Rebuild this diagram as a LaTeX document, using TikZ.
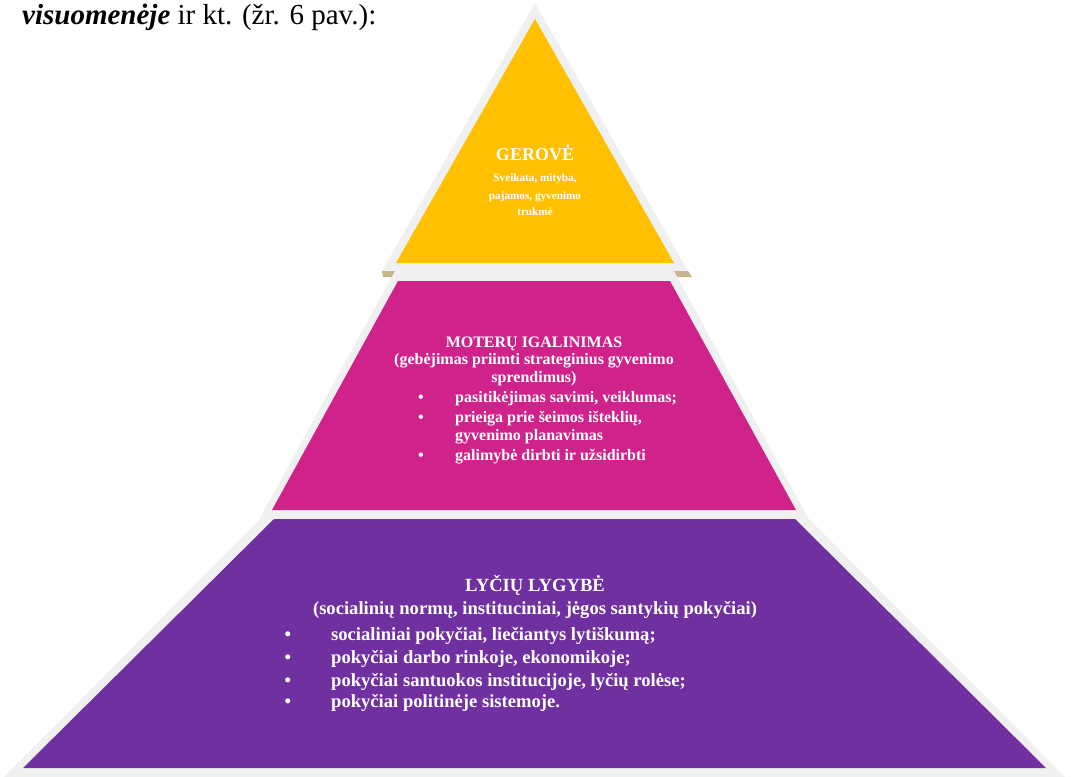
\documentclass[tikz,border=0pt]{standalone}
\usepackage{fontspec}
\setmainfont{Liberation Serif}
\usepackage{tikz}
\definecolor{goldlvl}{HTML}{FFC000}
\definecolor{pinklvl}{HTML}{CF238B}
\definecolor{purplelvl}{HTML}{7030A0}
\definecolor{framegrey}{HTML}{F0F0F0}
\definecolor{shadowtan}{HTML}{C7B58B}
\tikzstyle{txt}=[text=white, inner sep=0pt, anchor=base]
\tikzstyle{topbig}=[txt, font=\bfseries\fontsize{18}{21}\selectfont]
\tikzstyle{topsmall}=[txt, font=\bfseries\fontsize{11.2}{13}\selectfont]
\tikzstyle{midtxt}=[txt, font=\bfseries\fontsize{16}{19}\selectfont]
\tikzstyle{lowtxt}=[txt, font=\bfseries\fontsize{18.6}{22}\selectfont]
\tikzstyle{entry}=[anchor=base west]

\begin{document}
\begin{tikzpicture}[x=1pt, y=-1pt]
    \useasboundingbox (0,0) rectangle (1072,777);
    \node[anchor=base west, inner sep=0pt, font=\fontsize{29}{34}\selectfont] (intro) at (22,24)
        {\textbf{\textit{visuomenėje}} ir kt. (žr. 6 pav.):};
    % top
    \fill[framegrey] (535,3) -- (688,271) -- (382,271) -- cycle;
    \fill[shadowtan] (382,271) -- (688,271) -- (692,277) -- (383,277) -- cycle;
    \fill[goldlvl] (535,19) -- (674,263) -- (396,263) -- cycle;
    % middle
    \fill[framegrey] (395,271) -- (674,271) -- (808,518) -- (260,518) -- cycle;
    \fill[pinklvl] (398,281) -- (670,281) -- (796,510) -- (272,510) -- cycle;
    % bottom
    \fill[framegrey] (262,517) -- (807,517) -- (1065,777) -- (4,777) -- cycle;
    \fill[purplelvl] (274,519) -- (795,519) -- (1046,768) -- (23,768) -- cycle;

    \node[topbig] (g1) at (535,160.5) {GEROVĖ};
    \node[topsmall] (g2) at (535,181.5) {Sveikata, mityba,};
    \node[topsmall] (g3) at (535,199) {pajamos, gyvenimo};
    \node[topsmall] (g4) at (535,215) {trukmė};

    \node[midtxt] (m1) at (534,347) {MOTERŲ IGALINIMAS};
    \node[midtxt] (m2) at (534,364) {(gebėjimas priimti strateginius gyvenimo};
    \node[midtxt] (m3) at (534,382) {sprendimus)};
    \node[midtxt] (mb1) at (421,402) {\textbullet};
    \node[midtxt] (mb2) at (421,422) {\textbullet};
    \node[midtxt] (mb3) at (421,460) {\textbullet};
    \node[midtxt, entry] (me1) at (455,402) {pasitikėjimas savimi, veiklumas;};
    \node[midtxt, entry] (me2) at (455,422) {prieiga prie šeimos išteklių,};
    \node[midtxt, entry] (me3) at (455,440) {gyvenimo planavimas};
    \node[midtxt, entry] (me4) at (455,460) {galimybė dirbti ir užsidirbti};

    \node[lowtxt] (l1) at (535,591) {LYČIŲ LYGYBĖ};
    \node[lowtxt] (l2) at (535,614) {(socialinių normų, instituciniai, jėgos santykių pokyčiai)};
    \node[lowtxt] (lb1) at (288,640) {\textbullet};
    \node[lowtxt] (lb2) at (288,663) {\textbullet};
    \node[lowtxt] (lb3) at (288,686) {\textbullet};
    \node[lowtxt] (lb4) at (288,707) {\textbullet};
    \node[lowtxt, entry] (le1) at (331,640) {socialiniai pokyčiai, liečiantys lytiškumą;};
    \node[lowtxt, entry] (le2) at (331,663) {pokyčiai darbo rinkoje, ekonomikoje;};
    \node[lowtxt, entry] (le3) at (331,686) {pokyčiai santuokos institucijoje, lyčių rolėse;};
    \node[lowtxt, entry] (le4) at (331,707) {pokyčiai politinėje sistemoje.};
\end{tikzpicture}
\end{document}
